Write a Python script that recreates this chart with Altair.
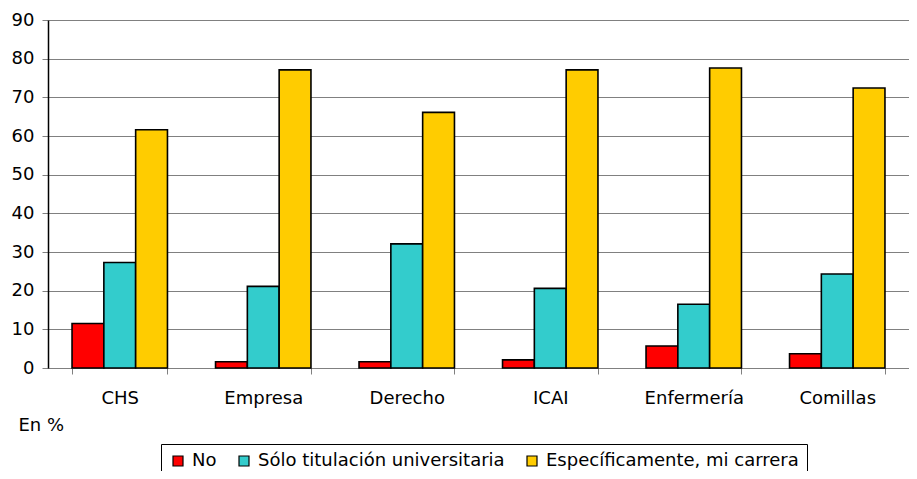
import altair as alt
import pandas as pd

categories = ["CHS", "Empresa", "Derecho", "ICAI", "Enfermería", "Comillas"]
series = ["No", "Sólo titulación universitaria", "Específicamente, mi carrera"]
values_no = [11.5, 1.6, 1.6, 2.1, 5.7, 3.7]
values_solo = [27.3, 21.1, 32.1, 20.6, 16.5, 24.3]
values_esp = [61.6, 77.1, 66.1, 77.1, 77.6, 72.4]
colors = ["#FF0000", "#33CCCC", "#FFCC00"]

rows = []
for s, vals in zip(series, [values_no, values_solo, values_esp]):
    for c, v in zip(categories, vals):
        rows.append({"cat": c, "serie": s, "val": v})
df = pd.DataFrame(rows)

FONT = "DejaVu Sans"

chart = alt.Chart(df).mark_bar(stroke="black", strokeWidth=1.6).encode(
    x=alt.X("cat:N", sort=categories,
            scale=alt.Scale(paddingInner=0.335, paddingOuter=0.1675),
            axis=alt.Axis(title="En %", labelAngle=0, tickBand="extent",
                          tickSize=6, tickColor="#808080", domainColor="#808080",
                          labelPadding=15, labelFontSize=18, labelFont=FONT,
                          labelColor="black",
                          titleFont=FONT, titleFontSize=18, titleFontWeight="normal",
                          titleColor="black", titleAnchor="start", titleAlign="left",
                          titleX=-30, titleY=57, titleBaseline="middle")),
    xOffset=alt.XOffset("serie:N", sort=series),
    y=alt.Y("val:Q", scale=alt.Scale(domain=[0, 90], nice=False),
            axis=alt.Axis(title=None, values=list(range(0, 91, 10)),
                          tickSize=6, tickColor="#808080", domainColor="black",
                          domainWidth=1.5,
                          gridColor="#808080", gridWidth=1,
                          labelPadding=8, labelFontSize=18, labelFont=FONT,
                          labelColor="black")),
    color=alt.Color("serie:N", sort=series,
                    scale=alt.Scale(domain=series, range=colors),
                    legend=alt.Legend(title=None, orient="none", direction="horizontal",
                                      legendX=113, legendY=424,
                                      symbolType="square", symbolSize=100,
                                      symbolStrokeColor="black", symbolStrokeWidth=1.2,
                                      labelFont=FONT, labelFontSize=18, labelLimit=0,
                                      labelColor="black", labelOffset=5,
                                      columnPadding=18,
                                      strokeColor="black", fillColor="white",
                                      padding=8)),
).properties(
    width=861, height=348,
    autosize=alt.AutoSizeParams(type="none"),
    padding={"left": 40, "top": 12, "right": 0, "bottom": 103},
).configure_view(
    stroke="#808080", strokeWidth=1.5
).configure(background="white")

chart.save("out.html", embed_options={"renderer": "svg", "actions": False})
